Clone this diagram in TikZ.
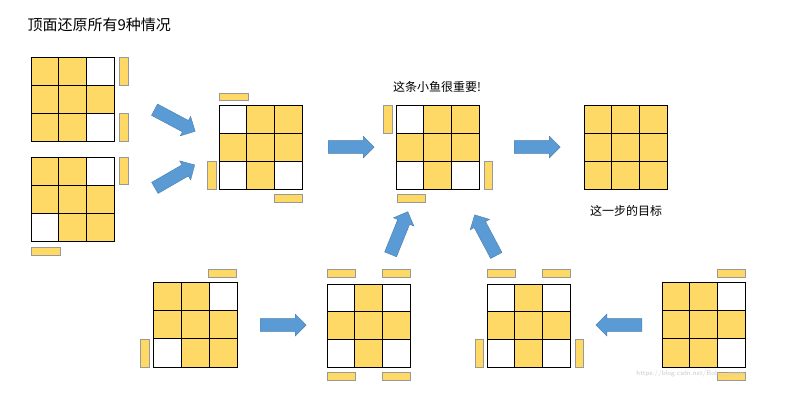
\documentclass[tikz,border=0pt]{standalone}
\usepackage{fontspec}
\newfontfamily\cjk{Noto Sans CJK SC}
\usetikzlibrary{shapes.arrows}
\definecolor{Y}{HTML}{FFD966}
\definecolor{W}{HTML}{FFFFFF}
\definecolor{arrowblue}{HTML}{5B9BD5}
\definecolor{stickeredge}{HTML}{999999}

% grid: left, top, cell width, cell height, nine colours
\newcommand\cubeface[5]{%
  \foreach \c [count=\i from 0] in {#5} {
    \pgfmathtruncatemacro\col{mod(\i,3)}
    \pgfmathtruncatemacro\row{int(\i/3)}
    \fill[\c] ({#1+\col*#3},{#2+\row*#4}) rectangle ++(#3,#4);
  }
  \foreach \k in {1,2} {
    \draw[thick] ({#1+\k*#3},#2) -- ++(0,{3*#4});
    \draw[thick] (#1,{#2+\k*#4}) -- ++({3*#3},0);
  }
  \draw[thick] (#1,#2) rectangle ++({3*#3},{3*#4});
}

\begin{document}
\begin{tikzpicture}[x=1pt,y=-1pt,% styles used in image code
sticker/.style = {fill=Y, draw=stickeredge, line width=1pt},
bigarrow/.style = {single arrow, fill=arrowblue, draw=arrowblue!80!black,
                   thin, minimum width=22pt, minimum height=46pt,
                   single arrow head extend=3pt, inner sep=4pt,
                   anchor=center}
                    ]
	\useasboundingbox (0,0) rectangle (799,402);
	% title and notes
	\node[anchor=west] (title) at (24,25) {\cjk\fontsize{15}{18}\selectfont 顶面还原所有9种情况};
	\node (fishnote) at (437,87) {\cjk\fontsize{12}{14}\selectfont 这条小鱼很重要!};
	\node (goalnote) at (626,211) {\cjk\fontsize{12}{14}\selectfont 这一步的目标};

	% top row
	\cubeface{31}{57}{27.7}{28}{Y,Y,W,Y,Y,Y,Y,Y,W}
	\draw[sticker] (119,57) rectangle (128,85);
	\draw[sticker] (119,113) rectangle (128,141);

	\cubeface{31}{157}{27.7}{28}{Y,Y,W,Y,Y,Y,W,Y,Y}
	\draw[sticker] (119,157) rectangle (128,184);
	\draw[sticker] (31,247) rectangle (60,255);

	\cubeface{219}{105}{27.7}{28}{W,Y,Y,Y,Y,Y,W,Y,W}
	\draw[sticker] (219,93) rectangle (248,100);
	\draw[sticker] (207,161) rectangle (216,189);
	\draw[sticker] (274,194) rectangle (302,202);

	\cubeface{396}{105}{27.7}{28}{W,Y,Y,Y,Y,Y,W,Y,W}
	\draw[sticker] (383,105) rectangle (392,133);
	\draw[sticker] (484,161) rectangle (492,189);
	\draw[sticker] (397,194) rectangle (425,202);

	\cubeface{584}{105}{27.7}{28}{Y,Y,Y,Y,Y,Y,Y,Y,Y}

	% bottom row
	\cubeface{153}{282}{28}{28.3}{Y,Y,W,Y,Y,Y,W,Y,Y}
	\draw[sticker] (208,269) rectangle (236,277);
	\draw[sticker] (140,339) rectangle (149,367);

	\cubeface{327}{284}{27.7}{27.7}{W,Y,W,Y,Y,Y,W,Y,W}
	\draw[sticker] (327,269) rectangle (355,277);
	\draw[sticker] (382,269) rectangle (410,277);
	\draw[sticker] (327,372) rectangle (355,380);
	\draw[sticker] (382,372) rectangle (410,380);

	\cubeface{487}{284}{27.7}{27.7}{W,Y,W,Y,Y,Y,W,Y,W}
	\draw[sticker] (487,269) rectangle (515,277);
	\draw[sticker] (542,269) rectangle (570,277);
	\draw[sticker] (475,339) rectangle (483,367);
	\draw[sticker] (575,339) rectangle (583,367);

	\cubeface{662}{282}{27.7}{28.3}{Y,Y,W,Y,Y,Y,Y,Y,W}
	\draw[sticker] (717,269) rectangle (745,277);
	\draw[sticker] (717,372) rectangle (745,380);

	% arrows
	\node[bigarrow, rotate=-28] (a1) at (172,119) {};
	\node[bigarrow, rotate=30] (a2) at (172,178) {};
	\node[bigarrow] (a3) at (348,147) {};
	\node[bigarrow] (a4) at (534,147) {};
	\node[bigarrow] (a5) at (280,325) {};
	\node[bigarrow, rotate=180] (a6) at (622,325) {};
	\node[bigarrow, rotate=68] (a7) at (398,236) {};
	\node[bigarrow, rotate=118] (a8) at (487,238) {};

	% watermark
	\node[gray!40, font=\sffamily\scriptsize] (mark) at (690,374) {https://blog.csdn.net/Bob\_\_yuan};
\end{tikzpicture}
\end{document}
